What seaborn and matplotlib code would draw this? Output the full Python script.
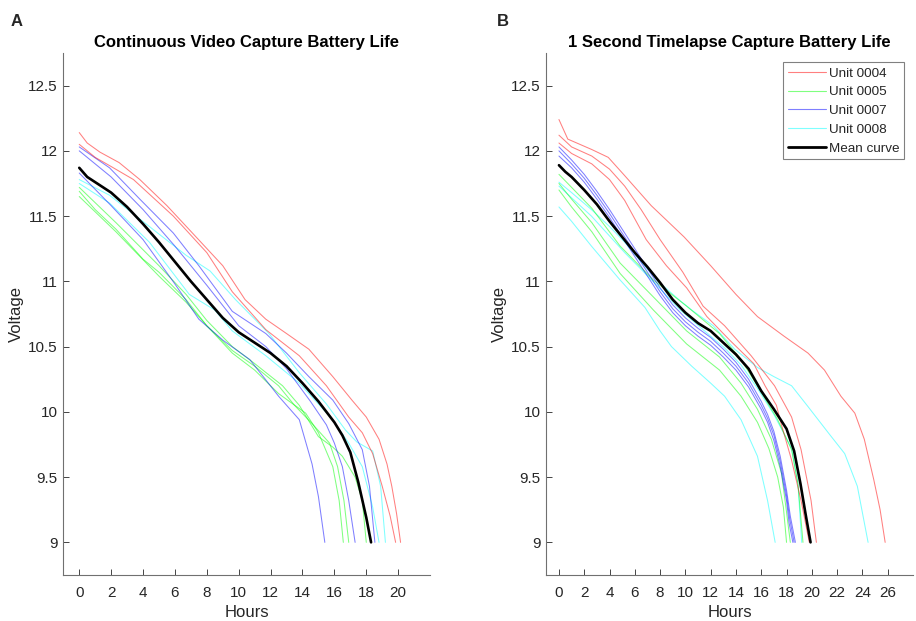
import numpy as np
import pandas as pd
import matplotlib
matplotlib.use('Agg')
import matplotlib.pyplot as plt
import seaborn as sns
from matplotlib.lines import Line2D

# ---- data (hours, voltage) ----
UNITS = ['Unit 0004', 'Unit 0005', 'Unit 0007', 'Unit 0008']
UNIT_COLORS = {'Unit 0004': '#ff0000', 'Unit 0005': '#00ff00',
               'Unit 0007': '#0000ff', 'Unit 0008': '#00ffff'}

Y_TICKS = [9, 9.5, 10, 10.5, 11, 11.5, 12, 12.5]
Y_TICK_LABELS = ['9', '9.5', '10', '10.5', '11', '11.5', '12', '12.5']
A_X_TICKS = list(range(0, 21, 2))
B_X_TICKS = list(range(0, 27, 2))

# panel A: continuous video
A_0004_1_H = [0, 0.5, 1.3, 2.5, 3.8, 5.5, 7.1, 9.0, 10.4, 11.7, 13.0, 14.4, 15.9, 17.1, 18.0, 18.8, 19.3, 19.6, 19.9, 20.15]
A_0004_1_V = [12.14, 12.06, 11.99, 11.91, 11.78, 11.58, 11.37, 11.12, 10.86, 10.71, 10.60, 10.48, 10.27, 10.09, 9.96, 9.79, 9.60, 9.43, 9.22, 9.0]
A_0004_2_H = [0, 1, 2, 3.4, 5.9, 8.0, 9.6, 11.7, 13.8, 15.5, 16.9, 17.75, 18.4, 19.0, 19.5, 19.84]
A_0004_2_V = [12.05, 11.95, 11.88, 11.78, 11.50, 11.22, 10.92, 10.63, 10.43, 10.20, 9.96, 9.84, 9.68, 9.43, 9.2, 9.0]
A_0005_1_H = [0, 1, 2.3, 4, 5, 6.7, 8, 9.6, 11, 12.5, 14.2, 15.0, 15.9, 16.3, 16.56]
A_0005_1_V = [11.69, 11.55, 11.40, 11.17, 11.07, 10.86, 10.66, 10.45, 10.32, 10.14, 9.99, 9.84, 9.58, 9.32, 9.0]
A_0005_2_H = [0, 2.3, 5, 6.7, 8, 9.6, 11, 12.5, 13.5, 14.6, 15.7, 16.2, 16.6, 16.9]
A_0005_2_V = [11.65, 11.38, 11.04, 10.84, 10.66, 10.47, 10.35, 10.20, 10.05, 9.91, 9.76, 9.58, 9.32, 9.0]
A_0005_3_H = [0, 2.3, 5, 6.7, 8, 9.6, 11, 12.75, 13.8, 15.0, 15.9, 16.5, 17.3, 17.75, 18.0]
A_0005_3_V = [11.72, 11.45, 11.12, 10.90, 10.70, 10.50, 10.37, 10.20, 10.05, 9.81, 9.73, 9.66, 9.50, 9.32, 9.0]
A_0007_1_H = [0, 1.9, 3.8, 5.9, 7.5, 9.6, 11.7, 13.0, 14.4, 15.9, 16.9, 17.75, 18.2, 18.54]
A_0007_1_V = [12.03, 11.87, 11.63, 11.37, 11.12, 10.77, 10.60, 10.45, 10.27, 10.09, 9.91, 9.71, 9.43, 9.0]
A_0007_2_H = [0, 2, 4, 6, 7.5, 9, 10.7, 12.5, 13.8, 14.6, 15.0, 15.4]
A_0007_2_V = [11.83, 11.58, 11.32, 10.98, 10.71, 10.55, 10.40, 10.12, 9.94, 9.60, 9.35, 9.0]
A_0007_3_H = [0, 2, 4, 6, 8, 10, 11.7, 13, 14.5, 15.5, 16.0, 16.5, 16.9, 17.3]
A_0007_3_V = [12.00, 11.80, 11.55, 11.27, 10.97, 10.66, 10.50, 10.33, 10.08, 9.90, 9.76, 9.58, 9.32, 9.0]
A_0008_1_H = [0, 1.9, 4.4, 6.7, 8.2, 9.8, 11.9, 13.8, 15.5, 16.7, 17.4, 18.4, 18.9, 19.2]
A_0008_1_V = [11.78, 11.66, 11.42, 11.20, 11.08, 10.86, 10.60, 10.30, 10.06, 9.86, 9.77, 9.70, 9.43, 9.0]
A_0008_2_H = [0, 1.9, 4.4, 6.9, 8.5, 9.6, 11.7, 13.8, 15.9, 16.9, 17.75, 18.4, 18.8]
A_0008_2_V = [11.75, 11.60, 11.30, 10.90, 10.78, 10.62, 10.43, 10.22, 9.94, 9.76, 9.58, 9.27, 9.0]
A_MEAN_H = [0, 0.5, 1, 2, 3, 4, 5, 6, 7, 8, 9, 10, 11, 12, 13, 14, 15, 16, 16.5, 17, 17.5, 18, 18.3]
A_MEAN_V = [11.87, 11.80, 11.76, 11.68, 11.57, 11.44, 11.30, 11.15, 11.00, 10.86, 10.72, 10.61, 10.53, 10.45, 10.35, 10.22, 10.08, 9.92, 9.82, 9.69, 9.46, 9.19, 9.0]

# panel B: 1 second timelapse
B_0004_1_H = [0, 0.7, 2.6, 3.9, 5.2, 7.3, 9.9, 12.0, 14.0, 15.7, 17.8, 19.7, 21.0, 22.3, 23.4, 24.15, 24.9, 25.4, 25.8]
B_0004_1_V = [12.24, 12.09, 12.01, 11.95, 11.81, 11.58, 11.34, 11.12, 10.90, 10.73, 10.58, 10.45, 10.32, 10.12, 9.99, 9.79, 9.48, 9.25, 9.0]
B_0004_2_H = [0, 1, 2.6, 4, 5.2, 6.5, 8.0, 9.8, 11.4, 13.1, 15.2, 17.05, 18.4, 19.15, 19.94, 20.36]
B_0004_2_V = [12.12, 12.03, 11.96, 11.86, 11.73, 11.55, 11.32, 11.07, 10.81, 10.66, 10.43, 10.20, 9.96, 9.71, 9.32, 9.0]
B_0004_3_H = [0, 1, 2.6, 4, 5.2, 6.9, 8.5, 10.1, 11.7, 13.5, 15.4, 16.3, 17.2, 17.6, 18.4, 19.15, 19.8]
B_0004_3_V = [12.06, 11.98, 11.90, 11.78, 11.62, 11.32, 11.12, 10.95, 10.73, 10.55, 10.37, 10.20, 10.05, 9.90, 9.63, 9.32, 9.0]
B_0005_1_H = [0, 1, 2.6, 4.84, 7.47, 10.1, 12.7, 14.4, 15.7, 17.3, 18.4, 18.9, 19.3]
B_0005_1_V = [11.82, 11.72, 11.56, 11.27, 11.01, 10.81, 10.60, 10.40, 10.20, 9.94, 9.71, 9.45, 9.0]
B_0005_2_H = [0, 1, 2.6, 4.84, 7.47, 10.1, 12.7, 14.4, 15.7, 16.8, 17.6, 17.95, 18.3]
B_0005_2_V = [11.75, 11.63, 11.45, 11.14, 10.88, 10.62, 10.42, 10.22, 10.02, 9.79, 9.53, 9.27, 9.0]
B_0005_3_H = [0, 1, 2.6, 4.84, 7.47, 10.1, 12.7, 14.4, 15.7, 16.6, 17.3, 17.75, 18.0]
B_0005_3_V = [11.70, 11.57, 11.38, 11.06, 10.78, 10.52, 10.32, 10.12, 9.92, 9.72, 9.50, 9.27, 9.0]
B_0007_1_H = [0, 1, 2, 3, 4, 5, 6, 7, 8, 9, 10, 11, 12, 13, 14, 15, 16, 16.5, 17, 17.5, 18, 18.3, 18.7]
B_0007_1_V = [12.03, 11.93, 11.82, 11.69, 11.55, 11.40, 11.25, 11.10, 10.95, 10.82, 10.72, 10.64, 10.57, 10.48, 10.38, 10.25, 10.08, 9.98, 9.85, 9.66, 9.40, 9.20, 9.0]
B_0007_2_H = [0, 1, 2, 3, 4, 5, 6, 7, 8, 9, 10, 11, 12, 13, 14, 15, 16, 16.5, 17, 17.5, 18, 18.25, 18.6]
B_0007_2_V = [12.00, 11.90, 11.79, 11.66, 11.52, 11.37, 11.22, 11.07, 10.92, 10.79, 10.69, 10.61, 10.54, 10.45, 10.35, 10.22, 10.05, 9.95, 9.82, 9.62, 9.36, 9.18, 9.0]
B_0007_3_H = [0, 1, 2, 3, 4, 5, 6, 7, 8, 9, 10, 11, 12, 13, 14, 15, 16, 16.5, 17, 17.5, 18, 18.2, 18.5]
B_0007_3_V = [11.96, 11.87, 11.76, 11.63, 11.49, 11.34, 11.19, 11.04, 10.89, 10.76, 10.66, 10.58, 10.51, 10.42, 10.32, 10.19, 10.02, 9.92, 9.78, 9.58, 9.32, 9.15, 9.0]
B_0008_1_H = [0, 1, 2.57, 4.84, 6.8, 8, 8.9, 10.5, 12, 13.1, 14.4, 15.7, 16.5, 17.1]
B_0008_1_V = [11.57, 11.46, 11.27, 11.01, 10.80, 10.62, 10.50, 10.35, 10.22, 10.12, 9.94, 9.66, 9.32, 9.0]
B_0008_2_H = [0, 1, 2.57, 4, 5.2, 6.5, 7.84, 9.6, 10.5, 12.2, 13.9, 15.7, 17, 18.4, 19.7, 21.3, 22.6, 23.6, 24.45]
B_0008_2_V = [11.76, 11.68, 11.55, 11.42, 11.30, 11.15, 11.00, 10.85, 10.78, 10.66, 10.48, 10.34, 10.27, 10.20, 10.04, 9.84, 9.68, 9.43, 9.0]
B_0008_3_H = [0, 1, 2.57, 5.2, 7.84, 9.6, 12, 13.1, 14.4, 15.7, 17, 18.4, 18.9, 19.2]
B_0008_3_V = [11.73, 11.64, 11.50, 11.22, 10.96, 10.78, 10.58, 10.49, 10.36, 10.18, 9.98, 9.72, 9.45, 9.0]
B_MEAN_H = [0, 0.5, 1, 2, 3, 4, 5, 6, 7, 8, 9, 10, 11, 12, 13, 14, 15, 16, 17, 18, 18.6, 19.1, 19.5, 19.9]
B_MEAN_V = [11.89, 11.84, 11.80, 11.70, 11.59, 11.46, 11.34, 11.22, 11.11, 10.99, 10.86, 10.76, 10.68, 10.62, 10.53, 10.44, 10.33, 10.16, 10.02, 9.87, 9.70, 9.45, 9.22, 9.0]

A_RUNS = [
    ('Unit 0008', 'a8_1', A_0008_1_H, A_0008_1_V),
    ('Unit 0008', 'a8_2', A_0008_2_H, A_0008_2_V),
    ('Unit 0005', 'a5_1', A_0005_1_H, A_0005_1_V),
    ('Unit 0005', 'a5_2', A_0005_2_H, A_0005_2_V),
    ('Unit 0005', 'a5_3', A_0005_3_H, A_0005_3_V),
    ('Unit 0007', 'a7_1', A_0007_1_H, A_0007_1_V),
    ('Unit 0007', 'a7_2', A_0007_2_H, A_0007_2_V),
    ('Unit 0007', 'a7_3', A_0007_3_H, A_0007_3_V),
    ('Unit 0004', 'a4_1', A_0004_1_H, A_0004_1_V),
    ('Unit 0004', 'a4_2', A_0004_2_H, A_0004_2_V),
]
B_RUNS = [
    ('Unit 0008', 'b8_1', B_0008_1_H, B_0008_1_V),
    ('Unit 0008', 'b8_2', B_0008_2_H, B_0008_2_V),
    ('Unit 0008', 'b8_3', B_0008_3_H, B_0008_3_V),
    ('Unit 0005', 'b5_1', B_0005_1_H, B_0005_1_V),
    ('Unit 0005', 'b5_2', B_0005_2_H, B_0005_2_V),
    ('Unit 0005', 'b5_3', B_0005_3_H, B_0005_3_V),
    ('Unit 0007', 'b7_1', B_0007_1_H, B_0007_1_V),
    ('Unit 0007', 'b7_2', B_0007_2_H, B_0007_2_V),
    ('Unit 0007', 'b7_3', B_0007_3_H, B_0007_3_V),
    ('Unit 0004', 'b4_1', B_0004_1_H, B_0004_1_V),
    ('Unit 0004', 'b4_2', B_0004_2_H, B_0004_2_V),
    ('Unit 0004', 'b4_3', B_0004_3_H, B_0004_3_V),
]

sns.set_style('ticks')
plt.rcParams['font.family'] = ['Liberation Sans', 'DejaVu Sans']
plt.rcParams['xtick.direction'] = 'in'
plt.rcParams['ytick.direction'] = 'in'

AX_COLOR = '#262626'


def to_frame(runs):
    rows = []
    for unit, run, hours, volts in runs:
        for h, v in zip(hours, volts):
            rows.append({'Hours': h, 'Voltage': v, 'Unit': unit, 'Run': run})
    return pd.DataFrame(rows)


def draw_panel(ax, runs, mean_h, mean_v, xticks, xmax, title):
    df = to_frame(runs)
    for run in df['Run'].unique():
        sub = df[df['Run'] == run]
        sns.lineplot(data=sub, x='Hours', y='Voltage', color=UNIT_COLORS[sub['Unit'].iloc[0]],
                     estimator=None, sort=False, lw=0.75, alpha=0.5, legend=False, ax=ax)
    sns.lineplot(x=mean_h, y=mean_v, color='black', lw=1.9, estimator=None, sort=False, ax=ax)

    ax.set_xlim(-1, xmax)
    ax.set_ylim(8.75, 12.75)
    ax.set_xticks(xticks)
    ax.set_xticklabels([str(t) for t in xticks])
    ax.set_yticks(Y_TICKS)
    ax.set_yticklabels(Y_TICK_LABELS)
    ax.tick_params(labelsize=11, colors=AX_COLOR, length=4, width=0.6, pad=8)
    ax.tick_params(axis='y', pad=4)
    sns.despine(ax=ax)
    for s in ['left', 'bottom']:
        ax.spines[s].set_color('#707070')
        ax.spines[s].set_linewidth(0.8)
    ax.set_title(title, fontsize=12, fontweight='bold', pad=4, color='black')
    ax.set_xlabel('Hours', fontsize=12, color=AX_COLOR)
    ax.set_ylabel('Voltage', fontsize=12, color=AX_COLOR)
    ax.xaxis.set_label_coords(0.5, -0.058)
    ax.yaxis.set_label_coords(-0.107, 0.5)


fig = plt.figure(figsize=(9.16, 6.21), dpi=100)
ax_a = fig.add_axes([0.0691, 0.0741, 0.4004, 0.8406])
ax_b = fig.add_axes([0.5964, 0.0741, 0.4003, 0.8406])

draw_panel(ax_a, A_RUNS, A_MEAN_H, A_MEAN_V, A_X_TICKS, 22,
           'Continuous Video Capture Battery Life')
draw_panel(ax_b, B_RUNS, B_MEAN_H, B_MEAN_V, B_X_TICKS, 28,
           '1 Second Timelapse Capture Battery Life')

handles = [Line2D([], [], color=UNIT_COLORS[u], lw=0.8, alpha=0.5) for u in UNITS]
handles.append(Line2D([], [], color='black', lw=2.0))
leg = ax_b.legend(handles, UNITS + ['Mean curve'], loc='upper right',
                  bbox_to_anchor=(0.976, 0.982), fontsize=9.7, frameon=True,
                  fancybox=False, framealpha=1, edgecolor='#808080',
                  handlelength=2.85, handletextpad=0.2, labelspacing=0.47,
                  borderpad=0.35, borderaxespad=0)
leg.get_frame().set_linewidth(0.8)

fig.text(17 / 916, 1 - 21 / 621, 'A', fontsize=12, fontweight='bold', ha='center', va='center')
fig.text(503 / 916, 1 - 21 / 621, 'B', fontsize=12, fontweight='bold', ha='center', va='center')

fig.savefig('out.png', dpi=100)
